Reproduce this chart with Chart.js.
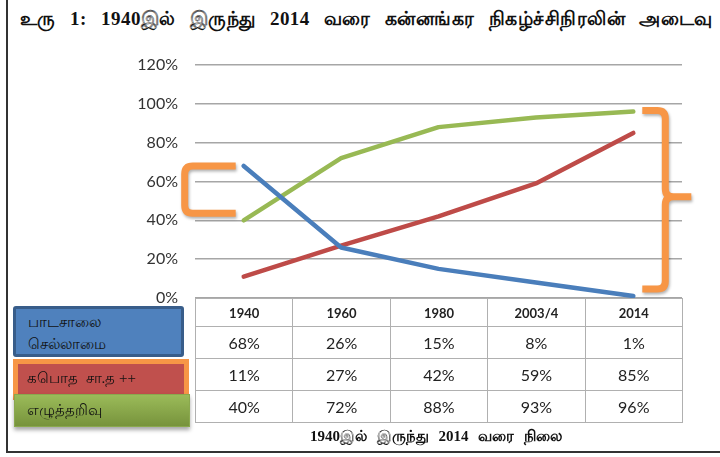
<!DOCTYPE html>
<html>
<head>
<meta charset="utf-8">
<script src="https://cdn.jsdelivr.net/npm/chart.js@4.4.0/dist/chart.umd.min.js"></script>
<style>
body { margin: 0; width: 720px; height: 457px; position: relative; overflow: hidden; background: #fff; }
#frame { position: absolute; left: 6px; top: -4px; width: 730px; height: 455px; border-left: 2px solid #333; border-bottom: 2px solid #333; }
#title { position: absolute; left: 20px; top: 8px; width: 700px; font: bold 19px "Liberation Serif", serif; color: #111; white-space: nowrap; word-spacing: 9px; letter-spacing: 0.45px; }
#wrap { position: absolute; left: 0; top: 0; width: 720px; height: 457px; }
#tbl { position: absolute; left: 195px; top: 298px; width: 488px; border-collapse: collapse; table-layout: fixed; font: 16px Lato, "Open Sans", sans-serif; color: #222; }
#tbl td { border: 1.5px solid #b0b0b0; text-align: center; padding: 0; height: 31px; }
#tbl tr.head td { font: bold 13px Lato, "Open Sans", sans-serif; height: 27px; }
.key { position: absolute; font: 15px "Liberation Serif", serif; color: #111; box-sizing: border-box; padding-left: 12px; }
#k1 { left: 13px; top: 306px; width: 171px; height: 51px; background: #4f81bd; border: 3px solid #385d8a; border-radius: 3px; line-height: 22px; padding-top: 2px; }
#k2 { left: 13px; top: 359px; width: 176px; height: 41px; background: #c0504d; border: 5px solid #f79646; line-height: 28px; padding-left: 9px; }
#k3 { left: 14px; top: 394px; width: 176px; height: 33px; background: linear-gradient(#9bbb59, #77933c); border: 1px solid #8aa84e; box-shadow: 0 3px 4px rgba(0,0,0,0.35); line-height: 30px; }
#caption { position: absolute; left: 0; width: 872px; top: 428px; text-align: center; font: bold 15px "Liberation Serif", serif; color: #111; word-spacing: 6px; }
</style>
</head>
<body>
<div id="frame"></div>
<div id="title">உரு 1: 1940இல் இருந்து 2014 வரை கன்னங்கர நிகழ்ச்சிநிரலின் அடைவு</div>
<div id="wrap"><canvas id="chart"></canvas></div>
<table id="tbl"></table>
<div class="key" id="k1">பாடசாலை<br>செல்லாமை</div>
<div class="key" id="k2">கபொத &nbsp;சா.த ++</div>
<div class="key" id="k3">எழுத்தறிவு</div>
<div id="caption">1940இல் இருந்து 2014 வரை நிலை</div>
<script>
var categories = ['1940', '1960', '1980', '2003/4', '2014'];
var notAttending = [68, 26, 15, 8, 1];
var olPass = [11, 27, 42, 59, 85];
var literacy = [40, 72, 88, 93, 96];
var seriesNames = ['பாடசாலை செல்லாமை', 'கபொத சா.த ++', 'எழுத்தறிவு'];
var yMax = 120;
var yStep = 20;

// data table under the plot
var tbl = document.getElementById('tbl');
var html = '<tr class="head">';
for (var i = 0; i < categories.length; i++) html += '<td>' + categories[i] + '</td>';
html += '</tr>';
[notAttending, olPass, literacy].forEach(function(row) {
    html += '<tr>';
    for (var j = 0; j < row.length; j++) html += '<td>' + row[j] + '%</td>';
    html += '</tr>';
});
tbl.innerHTML = html;

// orange brackets
var brackets = {
    id: 'brackets',
    afterDatasetsDraw: function(chart) {
        var ctx = chart.ctx;
        var x = chart.scales.x, y = chart.scales.y;
        ctx.save();
        ctx.strokeStyle = '#f79646';
        ctx.lineWidth = 7;
        ctx.lineCap = 'butt';
        ctx.shadowColor = 'rgba(0,0,0,0.3)';
        ctx.shadowBlur = 3;
        ctx.shadowOffsetX = 1;
        ctx.shadowOffsetY = 2;

        // left bracket at 1940
        var xr = x.getPixelForValue(0) - 8;
        var xl = xr - 51;
        var yt = y.getPixelForValue(notAttending[0]);
        var yb = y.getPixelForValue(literacy[0]) - 7;
        var r = 8;
        ctx.beginPath();
        ctx.moveTo(xr, yt);
        ctx.lineTo(xl + r, yt);
        ctx.quadraticCurveTo(xl, yt, xl, yt + r);
        ctx.lineTo(xl, yb - r);
        ctx.quadraticCurveTo(xl, yb, xl + r, yb);
        ctx.lineTo(xr, yb);
        ctx.stroke();

        // right brace at 2014
        var x0 = x.getPixelForValue(4) + 9;
        var xv = x0 + 23;
        var xt = xv + 26;
        var t = y.getPixelForValue(literacy[4]) - 1;
        var b = y.getPixelForValue(notAttending[4]) - 7;
        var m = (t + b) / 2 - 3;
        ctx.beginPath();
        ctx.moveTo(x0, t);
        ctx.lineTo(xv - r, t);
        ctx.quadraticCurveTo(xv, t, xv, t + r);
        ctx.lineTo(xv, m - r);
        ctx.quadraticCurveTo(xv, m, xv + r, m);
        ctx.lineTo(xt, m);
        ctx.moveTo(xv + r, m);
        ctx.quadraticCurveTo(xv, m, xv, m + r);
        ctx.lineTo(xv, b - r);
        ctx.quadraticCurveTo(xv, b, xv - r, b);
        ctx.lineTo(x0, b);
        ctx.stroke();
        ctx.restore();
    }
};

new Chart(document.getElementById('chart'), {
    type: 'line',
    data: {
        labels: categories,
        datasets: [
            { label: seriesNames[0], data: notAttending, borderColor: '#4a7ebb' },
            { label: seriesNames[1], data: olPass, borderColor: '#be4b48' },
            { label: seriesNames[2], data: literacy, borderColor: '#98b954' }
        ]
    },
    options: {
        responsive: true,
        maintainAspectRatio: false,
        animation: false,
        layout: { padding: { left: 0, top: 65, right: 38, bottom: 159 } },
        elements: {
            line: { borderWidth: 4.5, tension: 0, borderCapStyle: 'round', borderJoinStyle: 'round' },
            point: { radius: 0, hoverRadius: 0 }
        },
        plugins: { legend: { display: false }, tooltip: { enabled: false } },
        scales: {
            x: { type: 'category', offset: true, display: false },
            y: {
                min: 0,
                max: yMax,
                afterFit: function(s) { s.width = 195; },
                border: { display: false },
                grid: { color: '#a6a6a6', lineWidth: 1.5, drawTicks: false },
                ticks: {
                    stepSize: yStep,
                    padding: 17,
                    color: '#333',
                    font: { family: 'Lato', size: 16 },
                    callback: function(v) { return v + '%'; }
                }
            }
        }
    },
    plugins: [brackets]
});
</script>
</body>
</html>
